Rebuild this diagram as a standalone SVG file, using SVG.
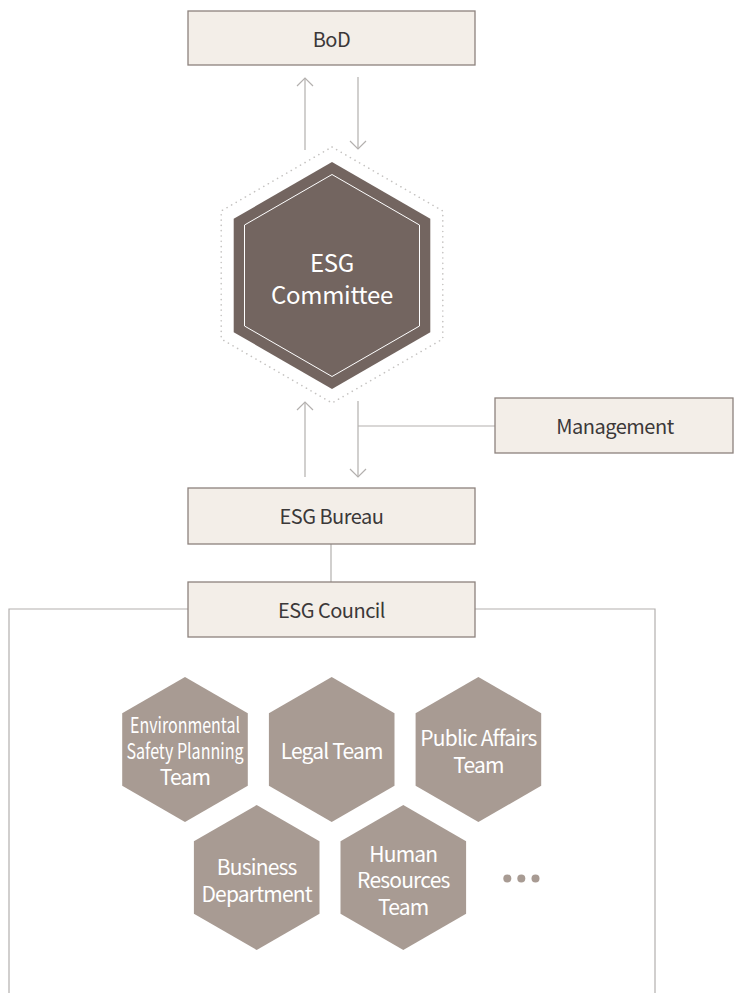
<svg xmlns="http://www.w3.org/2000/svg" width="734" height="993" viewBox="0 0 734 993">
<style>
.box{fill:#f3eee8;stroke:#8d827d;stroke-width:1.3}
.bt{font-family:"Noto Sans CJK KR","Noto Sans",sans-serif;font-size:20px;fill:#3b3838;text-anchor:middle;dominant-baseline:central;letter-spacing:-0.5px}
.ln{stroke:#b3b0ae;stroke-width:1.2;fill:none}
.hx{fill:#a89b93}
.ht{font-family:"Noto Sans CJK KR","Noto Sans",sans-serif;font-size:21px;fill:#ffffff;text-anchor:middle;dominant-baseline:central;letter-spacing:-0.8px}
</style>
<g id="connectors">
<line class="ln" x1="305" y1="150" x2="305" y2="78"/>
<path class="ln" d="M297,86 L305,78 L313,86"/>
<line class="ln" x1="358" y1="77" x2="358" y2="149"/>
<path class="ln" d="M350,141 L358,149 L366,141"/>
<line class="ln" x1="305" y1="477" x2="305" y2="402"/>
<path class="ln" d="M297,410 L305,402 L313,410"/>
<line class="ln" x1="358" y1="401" x2="358" y2="477"/>
<path class="ln" d="M350,469 L358,477 L366,469"/>
<line class="ln" x1="358" y1="426" x2="495" y2="426"/>
<line class="ln" x1="331" y1="544" x2="331" y2="582"/>
<path class="ln" d="M188,609 H9 V993"/>
<path class="ln" d="M475,609 H655 V993"/>
</g>
<g id="bod">
<rect class="box" x="188" y="11" width="287" height="54"/>
<text class="bt" x="331.5" y="38">BoD</text>
</g>
<g id="esg-committee">
<polygon points="332,147 442.8,211 442.8,339 332,403 221.2,339 221.2,211" fill="none" stroke="#c4c2c0" stroke-width="1.6" stroke-dasharray="0.1 5.2" stroke-linecap="round"/>
<polygon points="332,162 430.3,218.75 430.3,332.25 332,389 233.7,332.25 233.7,218.75" fill="#736560"/>
<polygon points="332,174.5 419.5,225 419.5,326 332,376.5 244.5,326 244.5,225" fill="none" stroke="#ffffff" stroke-width="1"/>
<text class="bt" x="332" y="261" style="font-size:24px;fill:#fff;letter-spacing:-0.3px">ESG</text>
<text class="bt" x="332" y="293" style="font-size:24px;fill:#fff;letter-spacing:-0.3px">Committee</text>
</g>
<g id="management">
<rect class="box" x="495" y="398" width="238" height="55"/>
<text class="bt" x="615" y="425">Management</text>
</g>
<g id="esg-bureau">
<rect class="box" x="188" y="488" width="287" height="56"/>
<text class="bt" x="331.5" y="515">ESG Bureau</text>
</g>
<g id="esg-council">
<rect class="box" x="188" y="582" width="287" height="55"/>
<text class="bt" x="331.5" y="609">ESG Council</text>
</g>
<g id="env-team">
<polygon class="hx" points="185,677 247.8,713.25 247.8,785.75 185,822 122.2,785.75 122.2,713.25"/>
<text class="ht" x="185" y="724" textLength="110" lengthAdjust="spacingAndGlyphs" style="letter-spacing:0">Environmental</text>
<text class="ht" x="185" y="750" textLength="117" lengthAdjust="spacingAndGlyphs" style="letter-spacing:0">Safety Planning</text>
<text class="ht" x="185" y="776">Team</text>
</g>
<g id="legal-team">
<polygon class="hx" points="331.7,677 394.5,713.25 394.5,785.75 331.7,822 268.9,785.75 268.9,713.25"/>
<text class="ht" x="331.7" y="750">Legal Team</text>
</g>
<g id="public-affairs-team">
<polygon class="hx" points="478.4,677 541.2,713.25 541.2,785.75 478.4,822 415.6,785.75 415.6,713.25"/>
<text class="ht" x="478.4" y="737">Public Affairs</text>
<text class="ht" x="478.4" y="764">Team</text>
</g>
<g id="business-dept">
<polygon class="hx" points="256.7,805 319.5,841.25 319.5,913.75 256.7,950 193.9,913.75 193.9,841.25"/>
<text class="ht" x="256.7" y="866">Business</text>
<text class="ht" x="256.7" y="893">Department</text>
</g>
<g id="hr-team">
<polygon class="hx" points="403.3,805 466.1,841.25 466.1,913.75 403.3,950 340.5,913.75 340.5,841.25"/>
<text class="ht" x="403.3" y="853">Human</text>
<text class="ht" x="403.3" y="879">Resources</text>
<text class="ht" x="403.3" y="906">Team</text>
</g>
<g id="more">
<circle cx="507.3" cy="878.5" r="4" fill="#a89b93"/>
<circle cx="521.3" cy="878.5" r="4" fill="#a89b93"/>
<circle cx="535.5" cy="878.5" r="4" fill="#a89b93"/>
</g>
</svg>
